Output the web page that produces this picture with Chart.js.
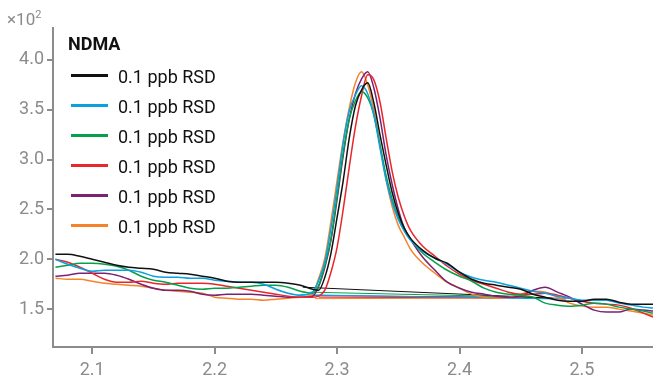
<!doctype html>
<html>
<head>
	<title>NDMA</title>
	<meta charset=utf-8>
	<script src="https://cdn.jsdelivr.net/npm/chart.js@4.4.1/dist/chart.umd.min.js"></script>
	<style>
		body { margin: 0; background: #fff; font-family: Roboto, sans-serif; }
		#holder { position: relative; width: 653px; height: 377px; }
		#mult { position: absolute; left: 7px; top: 8px; font-size: 17px; color: #8a8a8a; white-space: nowrap; }
		#mult sup { font-size: 11px; }
		#legend { position: absolute; left: 68px; top: 33px; white-space: nowrap; }
		#legend .title { font-weight: bold; font-size: 18px; color: #111; height: 28px; }
		#legend .row { position: relative; height: 30px; width: 200px; font-size: 18px; color: #111; }
		#legend .row span.sw { position: absolute; left: 3px; top: 13px; width: 37px; height: 3px; }
		#legend .row span.tx { position: absolute; left: 50px; top: 5px; }
	</style>
</head>
<body>
	<div id="holder">
		<canvas id="chart" width="653" height="377"></canvas>
		<div id="mult">×10<sup>2</sup></div>
		<div id="legend"></div>
	</div>
	<script>
		// retention time (min)
		var times = [2.07, 2.08, 2.09, 2.10, 2.11, 2.12, 2.13, 2.14, 2.15, 2.16, 2.17, 2.18, 2.19, 2.20, 2.21, 2.22, 2.23, 2.24, 2.25, 2.26, 2.27, 2.28,
			2.285, 2.29, 2.295, 2.30, 2.305, 2.31, 2.315, 2.32, 2.325, 2.33, 2.335, 2.34, 2.345, 2.35, 2.355,
			2.36, 2.37, 2.38, 2.39, 2.40, 2.41, 2.42, 2.43, 2.44, 2.45, 2.46, 2.47, 2.48, 2.49, 2.50, 2.51, 2.52, 2.53, 2.54, 2.55, 2.558];

		// signal (x10^2)
		var black = [2.05, 2.05, 2.03, 2.00, 1.97, 1.94, 1.92, 1.91, 1.90, 1.87, 1.86, 1.85, 1.83, 1.81, 1.78, 1.77, 1.77, 1.77, 1.77, 1.76, 1.74, 1.70,
			1.69, 1.82, 2.06, 2.42, 2.79, 3.22, 3.54, 3.70, 3.77, 3.57, 3.25, 2.95, 2.67, 2.46, 2.31,
			2.21, 2.09, 2.01, 1.96, 1.87, 1.80, 1.76, 1.74, 1.72, 1.70, 1.65, 1.62, 1.59, 1.58, 1.58, 1.60, 1.60, 1.57, 1.55, 1.55, 1.55];
		var blue = [2.00, 1.95, 1.91, 1.88, 1.89, 1.89, 1.89, 1.87, 1.83, 1.82, 1.82, 1.81, 1.81, 1.79, 1.78, 1.77, 1.77, 1.75, 1.70, 1.66, 1.64, 1.67,
			1.79, 1.97, 2.31, 2.72, 3.17, 3.49, 3.65, 3.74, 3.66, 3.45, 3.12, 2.80, 2.57, 2.40, 2.28,
			2.19, 2.08, 2.01, 1.95, 1.87, 1.82, 1.79, 1.77, 1.74, 1.71, 1.68, 1.66, 1.63, 1.61, 1.59, 1.59, 1.59, 1.56, 1.54, 1.52, 1.51];
		var green = [1.92, 1.94, 1.96, 1.96, 1.95, 1.93, 1.89, 1.83, 1.79, 1.77, 1.74, 1.71, 1.70, 1.71, 1.71, 1.72, 1.73, 1.74, 1.74, 1.72, 1.68, 1.66,
			1.74, 1.94, 2.21, 2.63, 3.07, 3.41, 3.59, 3.68, 3.62, 3.45, 3.15, 2.84, 2.60, 2.42, 2.29,
			2.20, 2.06, 1.97, 1.89, 1.83, 1.78, 1.71, 1.67, 1.65, 1.64, 1.62, 1.56, 1.54, 1.53, 1.54, 1.56, 1.55, 1.52, 1.50, 1.48, 1.46];
		var red = [2.00, 1.97, 1.92, 1.86, 1.80, 1.77, 1.77, 1.78, 1.76, 1.75, 1.76, 1.76, 1.76, 1.75, 1.73, 1.71, 1.69, 1.67, 1.65, 1.63, 1.62, 1.62,
			1.63, 1.69, 1.87, 2.12, 2.50, 2.93, 3.33, 3.64, 3.85, 3.80, 3.58, 3.22, 2.88, 2.62, 2.43,
			2.29, 2.13, 2.03, 1.93, 1.85, 1.79, 1.75, 1.71, 1.67, 1.65, 1.65, 1.66, 1.64, 1.61, 1.58, 1.56, 1.55, 1.54, 1.51, 1.46, 1.42];
		var purple = [1.83, 1.84, 1.86, 1.86, 1.86, 1.84, 1.80, 1.75, 1.71, 1.69, 1.69, 1.68, 1.65, 1.64, 1.65, 1.65, 1.65, 1.64, 1.63, 1.62, 1.62, 1.63,
			1.73, 1.92, 2.19, 2.60, 3.04, 3.41, 3.66, 3.81, 3.88, 3.72, 3.42, 3.05, 2.75, 2.50, 2.31,
			2.20, 2.02, 1.89, 1.77, 1.71, 1.67, 1.65, 1.63, 1.62, 1.63, 1.69, 1.72, 1.67, 1.62, 1.55, 1.49, 1.47, 1.47, 1.50, 1.49, 1.48];
		var orange = [1.81, 1.80, 1.80, 1.78, 1.76, 1.75, 1.74, 1.73, 1.71, 1.69, 1.68, 1.67, 1.66, 1.62, 1.61, 1.60, 1.60, 1.59, 1.60, 1.61, 1.62, 1.65,
			1.81, 2.01, 2.38, 2.79, 3.19, 3.52, 3.77, 3.88, 3.75, 3.50, 3.15, 2.80, 2.53, 2.34, 2.22,
			2.10, 1.96, 1.86, 1.77, 1.71, 1.65, 1.62, 1.61, 1.62, 1.65, 1.68, 1.67, 1.62, 1.56, 1.53, 1.52, 1.52, 1.50, 1.48, 1.46, 1.44];

		// integration baselines, one per run (same order as the runs)
		var baseStartX = [2.272, 2.270, 2.278, 2.285, 2.280, 2.282];
		var baseStartY = [1.72, 1.645, 1.67, 1.62, 1.635, 1.605];
		var baseEndX = [2.476, 2.487, 2.460, 2.490, 2.440, 2.430];
		var baseEndY = [1.61, 1.60, 1.62, 1.61, 1.62, 1.61];

		var runs = [black, blue, green, red, purple, orange];
		var runLabels = ['0.1 ppb RSD', '0.1 ppb RSD', '0.1 ppb RSD', '0.1 ppb RSD', '0.1 ppb RSD', '0.1 ppb RSD'];
		var runColors = ['#111111', '#0ba0df', '#06a04c', '#e8262b', '#7b2272', '#f5832c'];
		var compound = 'NDMA';

		var xTicks = [2.1, 2.2, 2.3, 2.4, 2.5];
		var yTicks = [1.5, 2.0, 2.5, 3.0, 3.5, 4.0];

		var datasets = [];
		runs.forEach(function(ys, i) {
			datasets.push({
				label: runLabels[i],
				data: times.map(function(t, k) { return { x: t, y: ys[k] }; }),
				borderColor: runColors[i],
				borderWidth: 1.5,
				pointRadius: 0,
				cubicInterpolationMode: 'monotone'
			});
		});
		runs.forEach(function(ys, i) {
			datasets.push({
				label: 'baseline',
				data: [{ x: baseStartX[i], y: baseStartY[i] }, { x: baseEndX[i], y: baseEndY[i] }],
				borderColor: runColors[i],
				borderWidth: 1,
				pointRadius: 0
			});
		});

		var gray = '#8c8c8c';
		var tickFont = { family: 'Roboto', size: 18 };

		new Chart(document.getElementById('chart'), {
			type: 'line',
			data: { datasets: datasets },
			options: {
				responsive: false,
				animation: false,
				layout: { padding: { top: 28, right: 0, left: 0, bottom: 0 } },
				plugins: { legend: { display: false }, tooltip: { enabled: false } },
				scales: {
					x: {
						type: 'linear',
						min: 2.068,
						max: 2.558,
						afterBuildTicks: function(s) { s.ticks = xTicks.map(function(v) { return { value: v }; }); },
						afterFit: function(s) { s.height = 30; },
						grid: { drawOnChartArea: false, drawTicks: true, tickLength: 7, color: gray, lineWidth: 2 },
						border: { display: true, color: gray, width: 2 },
						ticks: { color: gray, font: tickFont, padding: 6, maxRotation: 0, callback: function(v) { return v.toFixed(1); } }
					},
					y: {
						type: 'linear',
						min: 1.12,
						max: 4.32,
						afterBuildTicks: function(s) { s.ticks = yTicks.map(function(v) { return { value: v }; }); },
						afterFit: function(s) { s.width = 53; },
						grid: { drawOnChartArea: false, drawTicks: true, tickLength: 6, color: gray, lineWidth: 2 },
						border: { display: true, color: gray, width: 2 },
						ticks: { color: gray, font: tickFont, padding: 3, callback: function(v) { return v.toFixed(1); } }
					}
				}
			}
		});

		// legend drawn as html, top-left inside the plot
		var lg = document.getElementById('legend');
		var html = '<div class="title">' + compound + '</div>';
		runLabels.forEach(function(l, i) {
			html += '<div class="row"><span class="sw" style="background:' + runColors[i] + '"></span><span class="tx">' + l + '</span></div>';
		});
		lg.innerHTML = html;
	</script>
</body>
</html>
